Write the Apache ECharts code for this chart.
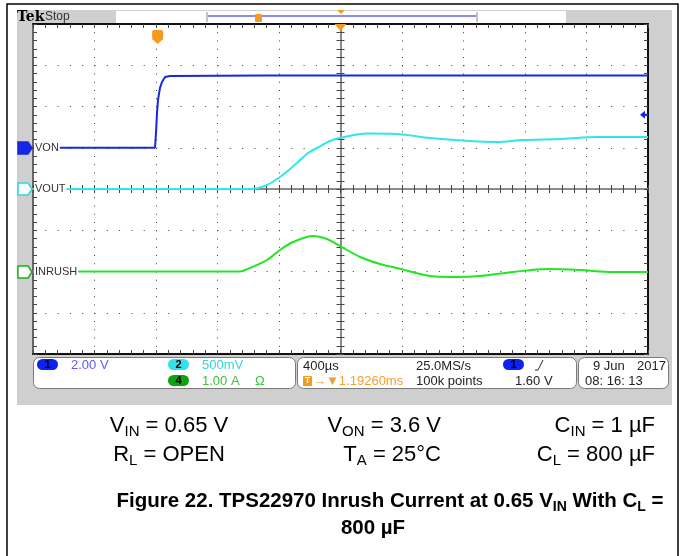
<!DOCTYPE html>
<html>
<head>
<meta charset="utf-8">
<script src="https://cdn.jsdelivr.net/npm/echarts@6/dist/echarts.min.js"></script>
<style>
html, body { margin: 0; padding: 0; background: #fff; }
#chart { width: 681px; height: 556px; }
</style>
</head>
<body>
<div id="chart"></div>
<script>
// time axis: ms from the left edge of the screen, 400 us/div, 10 div
const vonTime = [0, 0.7935, 0.800, 0.8065, 0.813, 0.826, 0.839, 0.859, 0.891, 1.5, 2.5, 3.5, 4.0];
const vonVolts = [0, 0, 0.72, 1.68, 2.32, 2.90, 3.19, 3.43, 3.48, 3.5, 3.5, 3.5, 3.5];

const voutTime = [0, 1.0, 1.42, 1.522, 1.606, 1.672, 1.737, 1.789, 1.847, 1.932, 1.997, 2.172, 2.367, 2.582, 2.842, 3.018, 3.187, 3.447, 3.668, 4.0];
const voutVolts = [0, 0, 0, 0.048, 0.145, 0.242, 0.352, 0.436, 0.497, 0.582, 0.618, 0.672, 0.667, 0.618, 0.582, 0.570, 0.594, 0.606, 0.630, 0.630];

const inrushTime = [0, 1.0, 1.346, 1.411, 1.522, 1.606, 1.691, 1.821, 1.912, 1.997, 2.127, 2.257, 2.367, 2.582, 2.758, 2.907, 3.122, 3.343, 3.558, 3.772, 4.0];
const inrushAmps = [0, 0, 0, 0.085, 0.279, 0.521, 0.715, 0.861, 0.788, 0.618, 0.352, 0.182, 0.085, -0.109, -0.133, -0.109, -0.012, 0.061, 0.036, -0.012, -0.012];

// scope settings
const chScale = [2, 0.5, 1];     // V/div, V/div, A/div
const chOffset = [1, 0, -2];     // ground position in divisions
const chNames = ['VON', 'VOUT', 'INRUSH'];
const chNums = ['1', '2', '4'];
const chColors = ['#1428e6', '#2ee6ee', '#22e622'];
const triggerTime = 2 - 1.1926;
const triggerLevel = 1.6;

const FONT = 'Liberation Sans';

const toPairs = (ts, vs, i) => ts.map((t, k) => [t, vs[k] / chScale[i] + chOffset[i]]);

const chart = echarts.init(document.getElementById('chart'), null, { renderer: 'canvas' });

const xBase = {
  type: 'value', min: 0, max: 4, interval: 0.4, gridIndex: 0,
  axisLabel: { show: false },
  splitLine: { show: false },
  minorTick: { show: true, splitNumber: 5, length: 4, lineStyle: { color: '#444' } },
  axisTick: { show: true, inside: true, length: 4, lineStyle: { color: '#444' } },
};
const yBase = {
  type: 'value', min: -4, max: 4, interval: 1, gridIndex: 0,
  axisLabel: { show: false },
  splitLine: { show: false },
  minorTick: { show: true, splitNumber: 5, length: 4, lineStyle: { color: '#444' } },
  axisTick: { show: true, inside: true, length: 4, lineStyle: { color: '#444' } },
};
const edge = (c) => ({ show: true, onZero: false, lineStyle: { color: c, width: 2 } });
const centre = { show: true, onZero: false, lineStyle: { color: '#8c8c8c', width: 2 } };

const series = [
  { data: toPairs(vonTime, vonVolts, 0), smooth: false },
  { data: toPairs(voutTime, voutVolts, 1), smooth: 0.3 },
  { data: toPairs(inrushTime, inrushAmps, 2), smooth: 0.3 },
].map((s, i) => ({
  type: 'line',
  name: chNames[i],
  xAxisIndex: 0,
  yAxisIndex: 0,
  data: s.data,
  smooth: s.smooth,
  showSymbol: false,
  z: 3,
  lineStyle: { color: chColors[i], width: 2 },
}));

chart.setOption({
  animation: false,
  grid: { left: 33, top: 24, width: 615, height: 330, outerBoundsMode: 'none' },
  xAxis: [
    Object.assign({}, xBase, { position: 'bottom', axisLine: edge('#111'),
      splitLine: { show: true, lineStyle: { color: '#3a3a3a', width: 1, type: [1, 7.25] } } }),
    Object.assign({}, xBase, { position: 'top', axisLine: edge('#111') }),
    Object.assign({}, xBase, { position: 'bottom', offset: -165, axisLine: centre }),
    Object.assign({}, xBase, { position: 'bottom', offset: -165, axisLine: centre,
      axisTick: Object.assign({}, xBase.axisTick, { inside: false }) }),
  ],
  yAxis: [
    Object.assign({}, yBase, { position: 'left', axisLine: edge('#666'),
      splitLine: { show: true, lineStyle: { color: '#3a3a3a', width: 1, type: [1, 11.3] } } }),
    Object.assign({}, yBase, { position: 'right', axisLine: edge('#111') }),
    Object.assign({}, yBase, { position: 'left', offset: -307.5, axisLine: centre }),
    Object.assign({}, yBase, { position: 'left', offset: -307.5, axisLine: centre,
      axisTick: Object.assign({}, yBase.axisTick, { inside: false }) }),
  ],
  series: series,
});

function text(x, y, str, style) {
  return {
    type: 'text', x: x, y: y, z: 20,
    style: Object.assign({ text: str, fontFamily: FONT, fontSize: 12, fill: '#222',
      verticalAlign: 'middle', align: 'left' }, style || {}),
  };
}
function rect(x, y, w, h, style, r, z) {
  return { type: 'rect', z: z == null ? 5 : z, shape: { x: x, y: y, width: w, height: h, r: r || 0 }, style: style };
}
function pill(x, y, num, fill) {
  return [
    rect(x, y, 21, 11, { fill: fill }, 5.5, 6),
    text(x + 10.5, y + 5.5, num, { align: 'center', fontSize: 11, fontWeight: 'bold', fill: '#000' }),
  ];
}

function buildGraphic() {
  const px = (t, d) => chart.convertToPixel({ xAxisIndex: 0, yAxisIndex: 0 }, [t, d]);
  const g = [];
  // frame and scope screen background
  g.push(rect(7, 4, 671, 600, { fill: '#fff', stroke: '#000', lineWidth: 1.5 }, 0, -10));
  g.push(rect(17, 10, 655, 395, { fill: '#cfcfcf' }, 0, -9));
  g.push(rect(33, 24, 615, 330, { fill: '#fff' }, 0, -8));

  // top bar
  g.push(text(17, 17, 'Tek', { fontFamily: 'DejaVu Serif', fontWeight: 'bold', fontSize: 14, fill: '#000' }));
  g.push(text(45, 17, 'Stop', { fontSize: 12, fill: '#333' }));
  g.push(rect(116, 11, 89, 12, { fill: '#fff' }));
  g.push(rect(205, 11, 273, 12, { fill: '#fff' }));
  g.push(rect(478, 11, 88, 12, { fill: '#fff' }));
  g.push({ type: 'line', z: 6, shape: { x1: 208, y1: 16, x2: 476, y2: 16 }, style: { stroke: '#8c8cee', lineWidth: 2 } });
  g.push({ type: 'line', z: 6, shape: { x1: 207, y1: 12, x2: 207, y2: 22 }, style: { stroke: '#888', lineWidth: 1 } });
  g.push({ type: 'line', z: 6, shape: { x1: 477, y1: 12, x2: 477, y2: 22 }, style: { stroke: '#888', lineWidth: 1 } });
  g.push(rect(255, 14, 7, 8, { fill: '#f59a1c' }, 1, 7));
  g.push({ type: 'polygon', z: 7, shape: { points: [[337, 10], [345, 10], [341, 14]] }, style: { fill: '#f59a1c' } });

  // trigger marker and centre marker
  const tx = px(triggerTime, 0)[0];
  const cx = px(2, 0)[0];
  g.push(rect(tx - 5, 30, 11, 10, { fill: '#f59a1c' }, 2, 21));
  g.push({ type: 'polygon', z: 21, shape: { points: [[tx - 5, 39], [tx + 6, 39], [tx + 0.5, 44]] }, style: { fill: '#f59a1c' } });
  g.push(text(tx + 0.5, 35.5, 'T', { align: 'center', fontSize: 10, fontWeight: 'bold', fill: '#fff', z: 22 }));
  g.push({ type: 'polygon', z: 21, shape: { points: [[cx - 6, 24], [cx + 6, 24], [cx, 31]] }, style: { fill: '#f59a1c' } });

  // channel ground markers and labels
  const markerFill = ['#1428e6', '#fff', '#fff'];
  const markerText = ['#ddd', '#2ed8e0', '#18b018'];
  const markerStroke = ['#1428e6', '#2ed8e0', '#18b018'];
  for (let i = 0; i < 3; i++) {
    const y = Math.round(px(0, chOffset[i])[1]);
    g.push({ type: 'polygon', z: 21, shape: { points: [[18, y - 6], [28, y - 6], [32, y], [28, y + 6], [18, y + 6]] },
      style: { fill: markerFill[i], stroke: markerStroke[i], lineWidth: 1.5 } });
    g.push(text(23, y + 0.5, chNums[i], { align: 'center', fontSize: 11, fontWeight: 'bold', fill: markerText[i], z: 22 }));
    g.push(text(34, y, chNames[i], { fontSize: 11, fill: '#333', backgroundColor: '#fff', padding: [1, 1, 0, 1] }));
  }

  // trigger level arrow on the right edge
  const ly = px(4, chOffset[0] + triggerLevel / chScale[0])[1];
  g.push({ type: 'polygon', z: 21, shape: { points: [[640, ly], [645, ly - 4], [645, ly + 4]] }, style: { fill: '#1428e6' } });
  g.push({ type: 'line', z: 21, shape: { x1: 644, y1: ly, x2: 648, y2: ly }, style: { stroke: '#1428e6', lineWidth: 2 } });

  // status boxes
  const box = { fill: '#fff', stroke: '#7a7a7a', lineWidth: 1 };
  g.push(rect(33.5, 357.5, 262, 31, box, 6));
  g.push(rect(297.5, 357.5, 279, 31, box, 6));
  g.push(rect(578.5, 357.5, 90, 31, box, 6));

  g.push(...pill(37, 359, '1', '#0c22f2'));
  g.push(text(71, 365, '2.00 V', { fill: '#5c5cf0', fontSize: 13 }));
  g.push(...pill(168, 359, '2', '#35e0e8'));
  g.push(text(202, 365, '500mV', { fill: '#35d6de', fontSize: 13 }));
  g.push(...pill(168, 375, '4', '#14a014'));
  g.push(text(202, 381, '1.00 A', { fill: '#3cc43c', fontSize: 13 }));
  g.push(text(255, 381, 'Ω', { fill: '#3cc43c', fontSize: 13 }));

  g.push(text(303, 366, '400µs', { fontSize: 13 }));
  g.push(rect(303, 376, 9, 10, { fill: '#f59a1c' }, 1, 6));
  g.push(text(307.5, 381, 'T', { align: 'center', fontSize: 9, fontWeight: 'bold', fill: '#fff' }));
  g.push(text(313, 381, '→▼1.19260ms', { fill: '#f0a030', fontSize: 13 }));
  g.push(text(416, 366, '25.0MS/s', { fontSize: 13 }));
  g.push(text(416, 381, '100k points', { fontSize: 13 }));
  g.push(...pill(503, 359, '1', '#0c22f2'));
  g.push({ type: 'polyline', z: 6, shape: { points: [[535, 370], [538, 370], [543, 360]] }, style: { stroke: '#222', lineWidth: 1 } });
  g.push(text(515, 381, '1.60 V', { fontSize: 13 }));
  g.push(text(593, 366, '9 Jun', { fontSize: 13 }));
  g.push(text(666, 366, '2017', { align: 'right', fontSize: 13 }));
  g.push(text(585, 381, '08: 16: 13', { fontSize: 13 }));

  // conditions and caption
  const rich = (size, weight) => ({
    n: { fontFamily: FONT, fontSize: size, fontWeight: weight, fill: '#000', lineHeight: 26, verticalAlign: 'middle' },
    s: { fontFamily: FONT, fontSize: Math.round(size * 0.66), fontWeight: weight, fill: '#000', lineHeight: 15, verticalAlign: 'bottom' },
  });
  const cond = (x, y, str, align) => ({
    type: 'text', x: x, y: y, z: 20,
    style: { text: str, rich: rich(22, 'normal'), align: align, verticalAlign: 'middle' },
  });
  g.push(cond(169, 426, '{n|V}{s|IN}{n| = 0.65 V}', 'center'));
  g.push(cond(441, 426, '{n|V}{s|ON}{n| = 3.6 V}', 'right'));
  g.push(cond(655, 426, '{n|C}{s|IN}{n| = 1 µF}', 'right'));
  g.push(cond(169, 455, '{n|R}{s|L}{n| = OPEN}', 'center'));
  g.push(cond(441, 455, '{n|T}{s|A}{n| = 25°C}', 'right'));
  g.push(cond(655, 455, '{n|C}{s|L}{n| = 800 µF}', 'right'));
  g.push({ type: 'text', x: 390, y: 501, z: 20,
    style: { text: '{n|Figure 22. TPS22970 Inrush Current at 0.65 V}{s|IN}{n| With C}{s|L}{n| =}',
      rich: rich(20.5, 'bold'), align: 'center', verticalAlign: 'middle' } });
  g.push({ type: 'text', x: 373, y: 528, z: 20,
    style: { text: '{n|800 µF}', rich: rich(20.5, 'bold'), align: 'center', verticalAlign: 'middle' } });
  return g;
}

chart.setOption({ graphic: buildGraphic() });
</script>
</body>
</html>
